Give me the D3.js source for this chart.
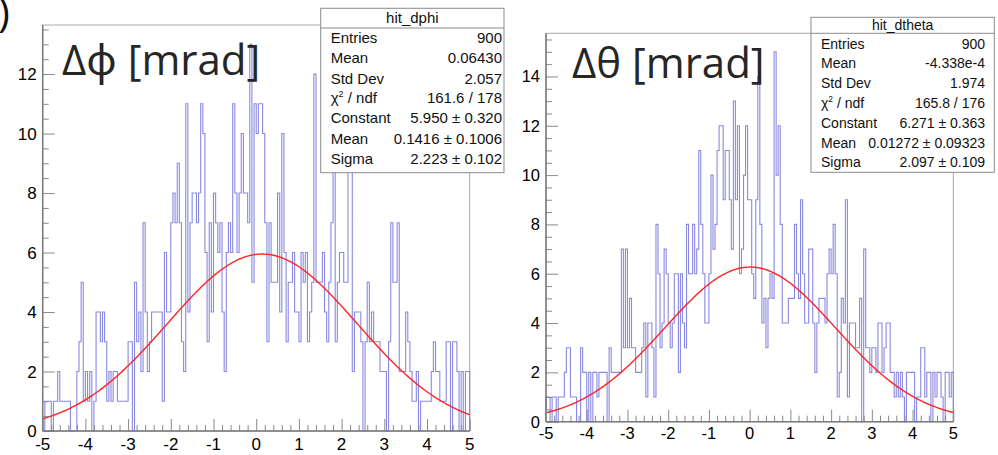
<!DOCTYPE html>
<html><head><meta charset="utf-8">
<script src="https://cdn.jsdelivr.net/npm/d3@7"></script>
<style>body{margin:0;background:#fff}svg{display:block}</style>
</head><body>
<svg id="c" width="998" height="455"></svg>
<script>
// 200 bins of width 0.05 over [-5, 5]
const xRange = [-5, 5];
const dphiCounts = [
 0,1,1,1,0,1,1,2,1,1, 1,1,1,0,0,0,2,3,5,1,
 2,1,2,0,1,4,4,3,4,3, 1,2,1,2,2,1,1,1,1,1,
 3,3,0,5,3,4,2,7,4,2, 3,4,4,4,4,4,1,6,4,4,
 7,8,7,9,7,3,2,11,4,7, 8,8,7,8,11,10,6,3,7,4,
 8,7,6,7,4,2,6,7,6,11, 8,6,8,10,8,8,7,13,5,11,
 10,11,11,10,7,3,7,5,5,5, 8,4,10,6,3,5,5,6,4,4,
 3,6,5,6,3,4,5,12,5,5, 5,6,4,3,5,7,10,3,5,6,
 6,5,5,9,9,2,4,4,4,3, 0,3,5,3,4,3,3,3,2,2,
 2,0,3,7,5,5,7,2,2,2, 4,3,2,1,1,2,0,1,1,1,
 1,1,2,3,2,2,1,1,1,3, 3,0,3,3,2,0,2,0,2,2
];
const dthetaCounts = [
 1,1,0,1,1,0,1,1,1,2, 3,3,1,1,1,0,0,3,2,2,
 0,2,0,2,2,1,2,2,2,2, 0,3,2,2,2,2,2,7,3,7,
 3,5,3,3,2,2,2,3,4,1, 4,4,3,1,8,6,3,4,7,6,
 4,3,4,6,6,2,6,4,3,8, 6,6,8,6,7,11,8,6,4,4,
 6,10,7,8,11,12,12,9,11,11, 9,7,13,9,12,6,7,10,12,9,
 9,6,5,9,14,8,4,5,3,5, 6,5,15,10,12,8,4,4,4,5,
 5,5,8,6,5,9,6,4,4,7, 7,4,2,4,5,5,5,4,6,7,
 6,8,6,1,2,5,4,9,1,4, 4,4,3,3,5,0,7,3,3,2,
 3,3,2,4,4,2,3,4,4,2, 2,1,2,1,2,1,0,2,2,2,
 2,0,1,1,3,3,1,2,2,0, 2,1,2,2,1,0,2,2,1,2
];
const xTickValues = [-5,-4,-3,-2,-1,0,1,2,3,4,5];
const yTicksPhi = [0,2,4,6,8,10,12];
const yTicksTheta = [0,2,4,6,8,10,12,14];

const statLabels = ["Entries","Mean","Std Dev","chi2","Constant","Mean","Sigma"];
const statValuesPhi = ["900","0.06430","2.057","161.6 / 178","5.950 \u00b1 0.320","0.1416 \u00b1 0.1006","2.223 \u00b1 0.102"];
const statValuesTheta = ["900","-4.338e-4","1.974","165.8 / 176","6.271 \u00b1 0.363","0.01272 \u00b1 0.09323","2.097 \u00b1 0.109"];
// Gaussian fit parameters: constant, mean, sigma
const fitPhi = [5.950, 0.1416, 2.223];
const fitTheta = [6.271, 0.01272, 2.097];

const svg = d3.select("#c");
const FONT = "'Liberation Sans', Arial, Helvetica, sans-serif";

function panel(o) {
  const g = svg.append("g");
  const x = d3.scaleLinear().domain(xRange).range([o.left, o.right]);
  const y = d3.scaleLinear().domain([0, o.ymax]).range([o.bottom, o.top]);
  const n = o.counts.length, w = (xRange[1] - xRange[0]) / n;

  // frame
  g.append("rect").attr("x", o.left).attr("y", o.top)
    .attr("width", o.right - o.left).attr("height", o.bottom - o.top)
    .attr("fill", "none").attr("stroke", "#a8a8a8").attr("stroke-width", 1);

  // histogram outline
  const pts = [[xRange[0], 0]];
  o.counts.forEach((c, i) => {
    pts.push([xRange[0] + i * w, c]);
    pts.push([xRange[0] + (i + 1) * w, c]);
  });
  pts.push([xRange[1], 0]);
  g.append("path").datum(pts)
    .attr("d", d3.line().x(d => x(d[0])).y(d => y(d[1])))
    .attr("fill", "none").attr("stroke", "#7c7cde").attr("stroke-opacity", 0.9)
    .attr("stroke-width", 1.1);

  // fitted gaussian
  const [A, mu, s] = o.fit;
  const fx = d3.range(0, 401).map(i => xRange[0] + i * (xRange[1] - xRange[0]) / 400);
  g.append("path").datum(fx)
    .attr("d", d3.line().x(v => x(v)).y(v => y(A * Math.exp(-0.5 * ((v - mu) / s) ** 2))))
    .attr("fill", "none").attr("stroke", "#ff2424").attr("stroke-width", 1.4);

  // y axis
  const yAxis = d3.axisRight(y).tickValues(o.yTicks).tickSize(12).tickFormat("");
  const yMinor = d3.axisRight(y).tickValues(d3.range(0, o.ymax, 0.5).filter(v => v % 2 !== 0)).tickSize(6).tickFormat("");
  [yAxis, yMinor].forEach(a => {
    const ax = g.append("g").attr("transform", `translate(${o.left},0)`).call(a);
    ax.select(".domain").remove();
    ax.selectAll("line").attr("stroke", "#8a8a8a");
  });
  g.append("line").attr("x1", o.left).attr("x2", o.left).attr("y1", o.top).attr("y2", o.bottom)
    .attr("stroke", "#7a7a7a").attr("stroke-width", 1.5);
  g.selectAll(".ylab").data(o.yTicks).join("text")
    .attr("x", o.left - 6).attr("y", d => y(d)).attr("dy", "0.36em")
    .attr("text-anchor", "end").attr("font-family", FONT).attr("font-size", o.tickFont)
    .attr("fill", "#000").text(d => d);

  // x axis
  const minorX = d3.range(-50, 51).map(v => v / 10).filter(v => Math.round(v * 10) % 2 === 0 && Math.round(v * 10) % 10 !== 0);
  const xAxis = d3.axisTop(x).tickValues(xTickValues).tickSize(12).tickFormat("");
  const xMinor = d3.axisTop(x).tickValues(minorX).tickSize(6).tickFormat("");
  [xAxis, xMinor].forEach(a => {
    const ax = g.append("g").attr("transform", `translate(0,${o.bottom})`).call(a);
    ax.select(".domain").remove();
    ax.selectAll("line").attr("stroke", "#8a8a8a");
  });
  g.append("line").attr("x1", o.left).attr("x2", o.right).attr("y1", o.bottom).attr("y2", o.bottom)
    .attr("stroke", "#7a7a7a").attr("stroke-width", 1.5);
  g.selectAll(".xlab").data(xTickValues).join("text")
    .attr("x", d => x(d)).attr("y", o.bottom + o.xLabOff)
    .attr("text-anchor", "middle").attr("font-family", FONT).attr("font-size", o.tickFont)
    .attr("fill", "#000").text(d => d);

  // big title inside the frame
  g.append("text").attr("x", o.titleX).attr("y", o.titleY)
    .attr("font-family", "'Open Sans','Noto Sans',sans-serif").attr("font-size", 42)
    .attr("fill", "#262626").text(o.title);

  // statistics box
  const b = o.box;
  g.append("rect").attr("x", b.x0).attr("y", b.y0).attr("width", b.x1 - b.x0).attr("height", b.y1 - b.y0)
    .attr("fill", "#fff").attr("stroke", "#8c8c8c").attr("stroke-width", 1);
  g.append("line").attr("x1", b.x0).attr("x2", b.x1).attr("y1", b.sep).attr("y2", b.sep)
    .attr("stroke", "#8c8c8c").attr("stroke-width", 1);
  g.append("text").attr("x", (b.x0 + b.x1) / 2).attr("y", b.titleY).attr("text-anchor", "middle")
    .attr("font-family", FONT).attr("font-size", b.font).attr("fill", "#111").text(o.name);
  o.labels.forEach((lab, i) => {
    const ty = b.rows[i];
    const tl = g.append("text").attr("x", b.tx0).attr("y", ty)
      .attr("font-family", FONT).attr("font-size", b.font).attr("fill", "#111");
    if (lab === "chi2") {
      tl.append("tspan").text("\u03c7");
      tl.append("tspan").attr("dy", -b.font * 0.45).attr("font-size", b.font * 0.6).text("2");
      tl.append("tspan").attr("dy", b.font * 0.45).text(" / ndf");
    } else tl.text(lab);
    g.append("text").attr("x", b.tx1).attr("y", ty).attr("text-anchor", "end")
      .attr("font-family", FONT).attr("font-size", b.font).attr("fill", "#111").text(o.values[i]);
  });
}

panel({
  left: 42.7, right: 469.7, top: 25, bottom: 431, ymax: 13.65,
  counts: dphiCounts, fit: fitPhi, yTicks: yTicksPhi, tickFont: 17, xLabOff: 18.5,
  title: "\u0394\u03d5 [mrad]", titleX: 62, titleY: 75, name: "hit_dphi",
  labels: statLabels, values: statValuesPhi,
  box: {x0: 320.7, x1: 504, y0: 8.3, y1: 172.7, sep: 28, titleY: 23.3, font: 15,
        tx0: 330.7, tx1: 502, rows: [42.7, 63.3, 84, 103.3, 123.3, 144, 164.3]}
});
panel({
  left: 546, right: 953.3, top: 33.3, bottom: 421.7, ymax: 15.75,
  counts: dthetaCounts, fit: fitTheta, yTicks: yTicksTheta, tickFont: 16.5, xLabOff: 17,
  title: "\u0394\u03b8 [mrad]", titleX: 572, titleY: 78, name: "hit_dtheta",
  labels: statLabels, values: statValuesTheta,
  box: {x0: 811, x1: 994.3, y0: 17.3, y1: 172.3, sep: 33.3, titleY: 30, font: 14,
        tx0: 821, tx1: 985, rows: [49.3, 68.3, 88.3, 108.3, 128.3, 147.7, 166.7]}
});

// closing bracket at the top-left edge
svg.append("text").attr("x", -2).attr("y", 27).attr("font-family", "'Open Sans',sans-serif")
  .attr("font-size", 40).attr("fill", "#111").text(")");
</script>
</body></html>
